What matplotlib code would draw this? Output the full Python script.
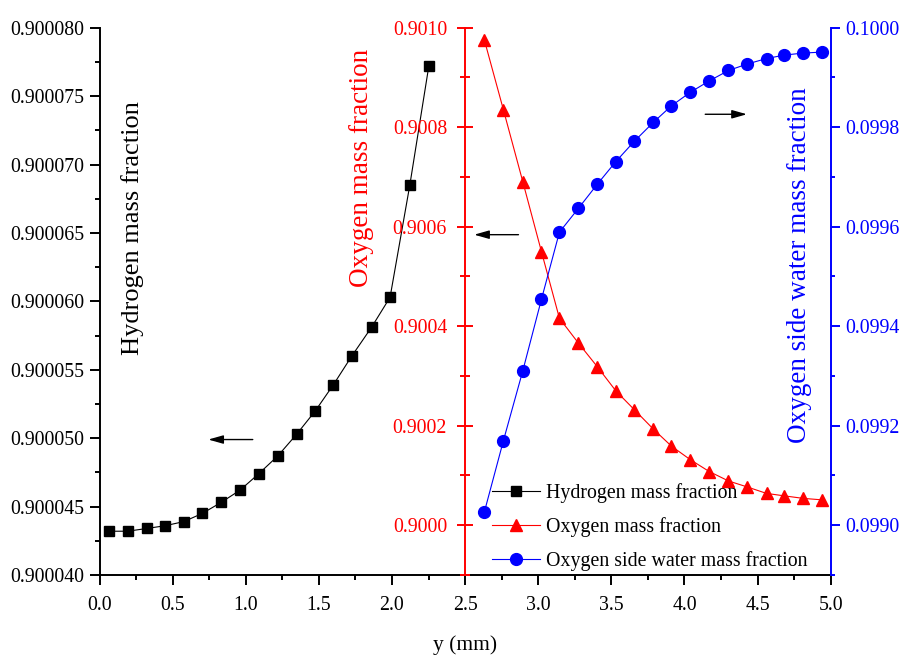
import matplotlib
matplotlib.use("Agg")
import matplotlib.pyplot as plt
from matplotlib.ticker import MultipleLocator, FormatStrFormatter

plt.rcParams['font.family'] = ['Liberation Serif', 'DejaVu Serif']

# ---- data ----
y_h2 = [0.065, 0.193, 0.323, 0.448, 0.576, 0.703, 0.831, 0.961, 1.089,
        1.219, 1.349, 1.476, 1.599, 1.725, 1.860, 1.987, 2.122, 2.252]
hydrogen = [0.9000432, 0.9000432, 0.9000434, 0.9000436, 0.9000439, 0.9000445,
            0.9000453, 0.9000462, 0.9000474, 0.9000487, 0.9000503, 0.9000520,
            0.9000539, 0.9000560, 0.9000581, 0.9000603, 0.9000685, 0.9000772]

y_o2 = [2.632, 2.762, 2.895, 3.022, 3.145, 3.275, 3.403, 3.531, 3.658, 3.788,
        3.911, 4.039, 4.169, 4.301, 4.429, 4.561, 4.684, 4.812, 4.942]
oxygen = [0.900975, 0.900835, 0.900690, 0.900550, 0.900416, 0.900366,
          0.900319, 0.900270, 0.900232, 0.900193, 0.900159, 0.900132,
          0.900108, 0.900089, 0.900077, 0.900064, 0.900059, 0.900054,
          0.900051]
water = [0.099027, 0.099170, 0.099311, 0.099454, 0.099589, 0.099637,
         0.099685, 0.099731, 0.099772, 0.099810, 0.099843, 0.099870,
         0.099893, 0.099914, 0.099927, 0.099938, 0.099945, 0.099949,
         0.099951]

labels = ["Hydrogen mass fraction", "Oxygen mass fraction",
          "Oxygen side water mass fraction"]

W, H = 900, 661
fig = plt.figure(figsize=(9, 6.61), dpi=100)
left, right, top, bottom = 99.5, 830.7, 27.7, 575.0
ax = fig.add_axes([left / W, 1 - bottom / H, (right - left) / W, (bottom - top) / H])

RED = '#ff0000'
BLUE = '#0000ff'
TS = 14.3
SW = 1.4

# ---- main (hydrogen) axis ----
l1, = ax.plot(y_h2, hydrogen, color='black', lw=0.8, marker='s', ms=7.2,
              mfc='black', mec='black', label=labels[0])
ax.set_xlim(0, 5)
ax.set_ylim(0.900040, 0.900080)
ax.xaxis.set_major_locator(MultipleLocator(0.5))
ax.xaxis.set_minor_locator(MultipleLocator(0.25))
ax.xaxis.set_major_formatter(FormatStrFormatter('%.1f'))
ax.yaxis.set_major_locator(MultipleLocator(0.000005))
ax.yaxis.set_minor_locator(MultipleLocator(0.0000025))
ax.yaxis.set_major_formatter(FormatStrFormatter('%.6f'))
for s in ['top', 'right']:
    ax.spines[s].set_visible(False)
for s in ['left', 'bottom']:
    ax.spines[s].set_linewidth(SW)
ax.tick_params(which='major', direction='out', length=7, width=SW, labelsize=TS)
ax.tick_params(axis='y', which='major', pad=4)
ax.tick_params(axis='x', which='major', pad=8)
ax.tick_params(which='minor', direction='out', length=3.6, width=SW)
ax.set_xlabel('y (mm)', fontsize=15.5, labelpad=15)

# ---- oxygen axis (at x = 2.5) ----
axr = ax.twinx()
l2, = axr.plot(y_o2, oxygen, color=RED, lw=0.8, marker='^', ms=9,
               mfc=RED, mec=RED, label=labels[1])
axr.set_ylim(0.8999, 0.9010)
for s in ['top', 'right', 'bottom']:
    axr.spines[s].set_visible(False)
axr.spines['left'].set_visible(True)
axr.spines['left'].set_position(('data', 2.5))
axr.spines['left'].set_color(RED)
axr.spines['left'].set_linewidth(SW)
axr.yaxis.set_ticks_position('left')
axr.yaxis.set_major_locator(MultipleLocator(0.0002))
axr.yaxis.set_minor_locator(MultipleLocator(0.0001))
axr.yaxis.set_major_formatter(FormatStrFormatter('%.4f'))
axr.tick_params(axis='y', which='major', direction='inout', length=12, width=SW,
                colors=RED, labelsize=TS, pad=7)
axr.tick_params(axis='y', which='minor', direction='inout', length=6.5, width=SW,
                colors=RED)

# ---- water axis (right) ----
axb = ax.twinx()
l3, = axb.plot(y_o2, water, color=BLUE, lw=0.8, marker='o', ms=8.5,
               mfc=BLUE, mec=BLUE, label=labels[2])
axb.set_ylim(0.0989, 0.1000)
for s in ['top', 'left', 'bottom']:
    axb.spines[s].set_visible(False)
axb.spines['right'].set_color(BLUE)
axb.spines['right'].set_linewidth(SW)
axb.yaxis.set_major_locator(MultipleLocator(0.0002))
axb.yaxis.set_minor_locator(MultipleLocator(0.0001))
axb.yaxis.set_major_formatter(FormatStrFormatter('%.4f'))
axb.tick_params(axis='y', which='major', direction='out', length=6.7, width=SW,
                colors=BLUE, labelsize=TS, pad=4)
axb.tick_params(axis='y', which='minor', direction='out', length=3.2, width=SW,
                colors=BLUE)

# ---- rotated axis titles ----
fig.text(133 / W, 1 - 228.5 / H, labels[0], rotation=90, ha='center', va='center',
         fontsize=19, color='black')
fig.text(361 / W, 1 - 168 / H, labels[1], rotation=90, ha='center', va='center',
         fontsize=19.5, color=RED)
fig.text(800 / W, 1 - 265 / H, labels[2], rotation=90, ha='center', va='center',
         fontsize=19.5, color=BLUE)

# ---- arrows ----
ap = dict(arrowstyle='-|>,head_length=0.6,head_width=0.17', color='black', lw=1,
          mutation_scale=15, shrinkA=0, shrinkB=0)
ax.annotate('', xy=(0.744, 0.9000499), xytext=(1.048, 0.9000499), arrowprops=ap)
axr.annotate('', xy=(2.562, 0.900584), xytext=(2.865, 0.900584), arrowprops=ap)
axb.annotate('', xy=(4.427, 0.099826), xytext=(4.142, 0.099826), arrowprops=ap)

# ---- legend ----
axb.legend([l1, l2, l3], labels, loc='upper left',
           bbox_to_anchor=(491.7 / W, 1 - 483 / H), bbox_transform=fig.transFigure,
           frameon=False, fontsize=TS, handlelength=2.45, handletextpad=0.3,
           labelspacing=0.72, borderpad=0, borderaxespad=0, numpoints=1)

fig.savefig('out.png', dpi=100)
